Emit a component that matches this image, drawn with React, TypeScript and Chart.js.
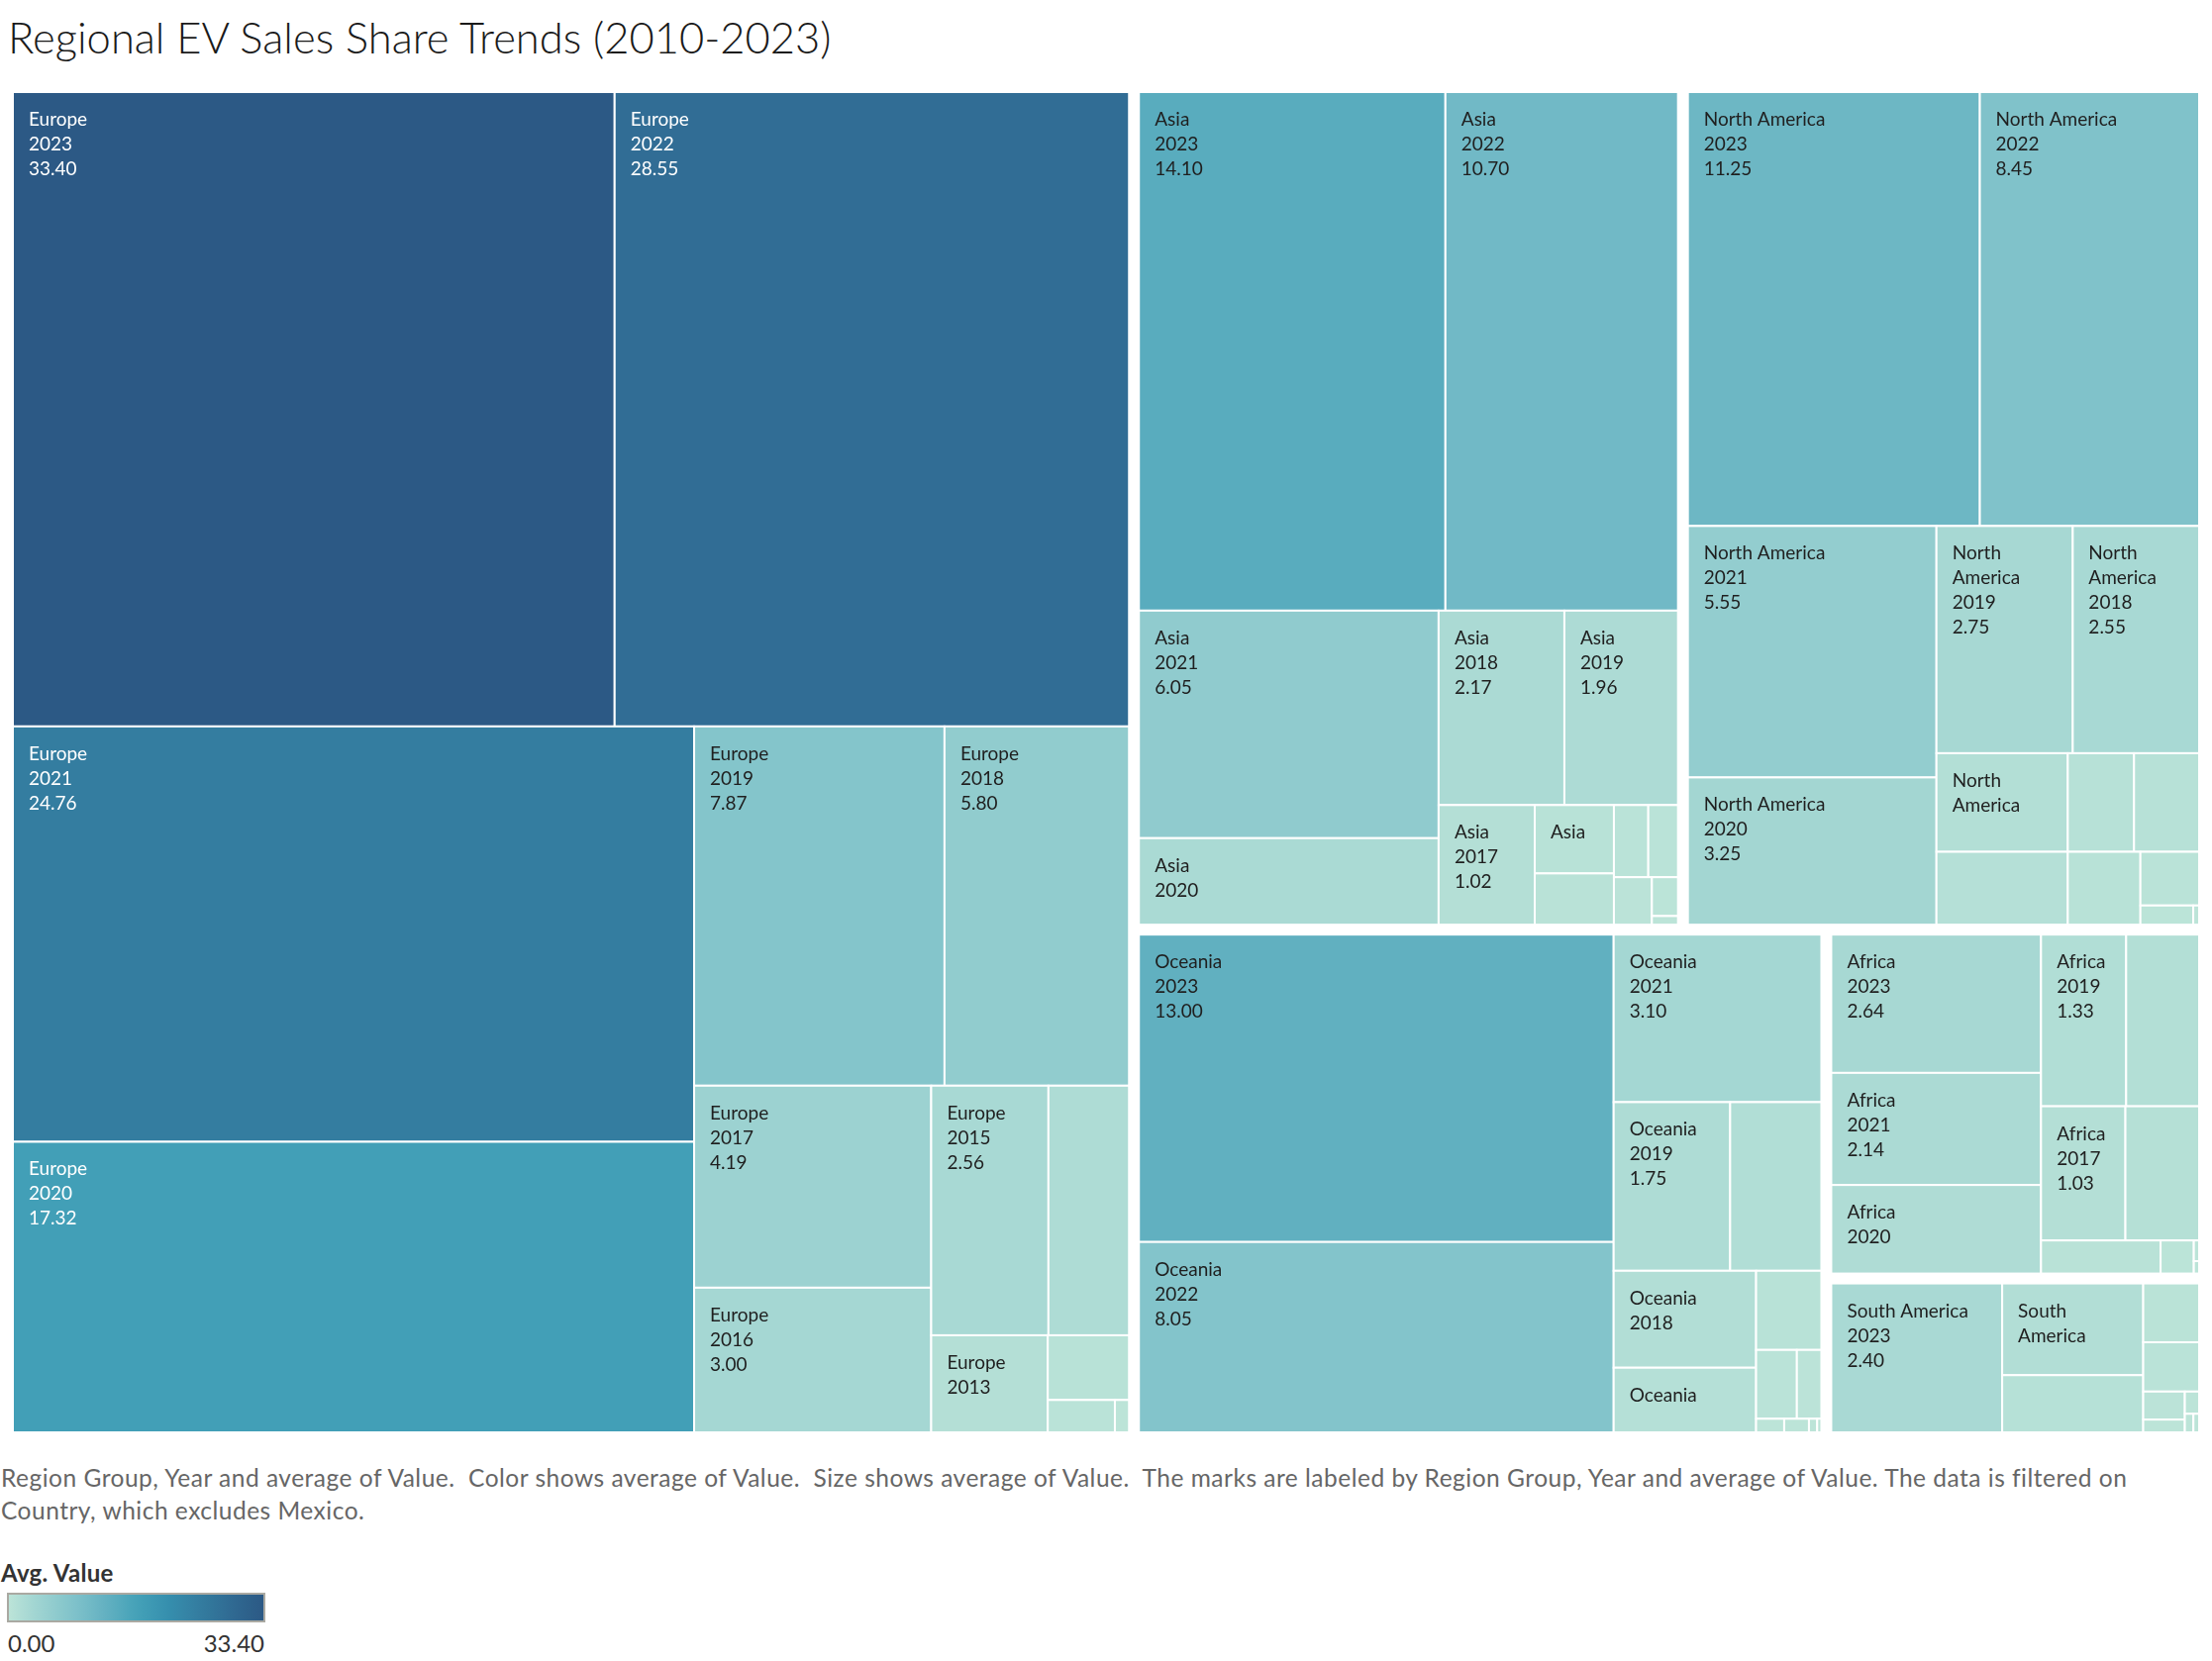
import React, { useEffect, useRef } from "react";
import { Chart, registerables } from "chart.js";

Chart.register(...registerables);

// ---------- data ----------
const regionNames = ["Europe", "Asia", "North America", "Oceania", "Africa", "South America"];

const europeYears = [2023, 2022, 2021, 2020, 2019, 2018, 2017, 2016, 2015, 2014, 2013, 2012, 2011, 2010];
const europeValues = [33.4, 28.55, 24.76, 17.32, 7.87, 5.8, 4.19, 3.0, 2.56, 1.76, 0.99, 0.46, 0.19, 0.04];

const asiaYears = [2023, 2022, 2021, 2020, 2018, 2019, 2017, 2016, 2015, 2014, 2013, 2012, 2011, 2010];
const asiaValues = [14.1, 10.7, 6.05, 2.3, 2.17, 1.96, 1.02, 0.48, 0.36, 0.22, 0.19, 0.16, 0.09, 0.02];

const northAmericaYears = [2023, 2022, 2021, 2020, 2019, 2018, 2017, 2016, 2015, 2014, 2013, 2012, 2011, 2010];
const northAmericaValues = [11.25, 8.45, 5.55, 3.25, 2.75, 2.55, 1.15, 0.85, 0.58, 0.57, 0.47, 0.28, 0.09, 0.01];

const oceaniaYears = [2023, 2022, 2021, 2019, 2020, 2018, 2017, 2016, 2015, 2014, 2013, 2012, 2011, 2010];
const oceaniaValues = [13.0, 8.05, 3.1, 1.75, 1.37, 1.23, 0.82, 0.46, 0.25, 0.15, 0.034, 0.03, 0.01, 0.005];

const africaYears = [2023, 2021, 2020, 2019, 2022, 2017, 2018, 2016, 2015, 2014, 2013];
const africaValues = [2.64, 2.14, 1.69, 1.33, 1.14, 1.03, 0.9, 0.36, 0.1, 0.01, 0.006];

const southAmericaYears = [2023, 2022, 2021, 2020, 2019, 2018, 2017, 2016, 2015, 2014];
const southAmericaValues = [2.4, 1.22, 0.76, 0.31, 0.26, 0.11, 0.05, 0.03, 0.015, 0.01];

const regionYears = [europeYears, asiaYears, northAmericaYears, oceaniaYears, africaYears, southAmericaYears];
const regionValues = [europeValues, asiaValues, northAmericaValues, oceaniaValues, africaValues, southAmericaValues];

const legendTitle = "Avg. Value";
const legendMin = 0;
const legendMax = 33.4;

const titleText = "Regional EV Sales Share Trends (2010-2023)";
const footerLine1 =
  "Region Group, Year and average of Value.  Color shows average of Value.  Size shows average of Value.  The marks are labeled by Region Group, Year and average of Value. The data is filtered on";
const footerLine2 = "Country, which excludes Mexico.";

// Tableau Blue-Teal sequential ramp
const rampColors = [
  "#bce4d8", "#aedcd5", "#a1d5d2", "#95cecf", "#89c8cc", "#7ec1ca", "#72bac6", "#66b2c2", "#59acbe", "#4ba5ba",
  "#419eb6", "#3b96b2", "#358ead", "#3586a7", "#347ea1", "#32779b", "#316f96", "#2f6790", "#2d608a", "#2c5985",
];

// ---------- helpers ----------
const W = 2208;
const H = 1354;
const GAP = 10;

type Rect = { x0: number; y0: number; x1: number; y1: number };

function hexToRgb(h: string) {
  const n = parseInt(h.slice(1), 16);
  return [(n >> 16) & 255, (n >> 8) & 255, n & 255];
}

function rampRgb(v: number) {
  const t = Math.max(0, Math.min(1, (v - legendMin) / (legendMax - legendMin)));
  const p = t * (rampColors.length - 1);
  const i = Math.min(rampColors.length - 2, Math.floor(p));
  const f = p - i;
  const a = hexToRgb(rampColors[i]);
  const b = hexToRgb(rampColors[i + 1]);
  return [0, 1, 2].map((k) => Math.round(a[k] + (b[k] - a[k]) * f));
}

function luminance(rgb: number[]) {
  const c = rgb.map((x) => {
    const s = x / 255;
    return s <= 0.03928 ? s / 12.92 : Math.pow((s + 0.055) / 1.055, 2.4);
  });
  return 0.2126 * c[0] + 0.7152 * c[1] + 0.0722 * c[2];
}

// squarified layout (golden-ratio variant)
function squarify(values: number[], rect: Rect): Rect[] {
  const ratio = (1 + Math.sqrt(5)) / 2;
  const out: Rect[] = new Array(values.length);
  let { x0, y0, x1, y1 } = rect;
  let value = values.reduce((a, b) => a + b, 0);
  const n = values.length;
  let i0 = 0;
  let i1 = 0;
  while (i0 < n) {
    const dx = x1 - x0;
    const dy = y1 - y0;
    let sumValue = values[i1++];
    let minValue = sumValue;
    let maxValue = sumValue;
    const alpha = Math.max(dy / dx, dx / dy) / (value * ratio);
    let beta = sumValue * sumValue * alpha;
    let minRatio = Math.max(maxValue / beta, beta / minValue);
    for (; i1 < n; ++i1) {
      const nv = values[i1];
      sumValue += nv;
      if (nv < minValue) minValue = nv;
      if (nv > maxValue) maxValue = nv;
      beta = sumValue * sumValue * alpha;
      const newRatio = Math.max(maxValue / beta, beta / minValue);
      if (newRatio > minRatio) {
        sumValue -= nv;
        break;
      }
      minRatio = newRatio;
    }
    if (dx < dy) {
      const h = value ? (dy * sumValue) / value : dy;
      let x = x0;
      for (let i = i0; i < i1; i++) {
        const w = (dx * values[i]) / sumValue;
        out[i] = { x0: x, y0, x1: x + w, y1: y0 + h };
        x += w;
      }
      y0 += h;
    } else {
      const w = value ? (dx * sumValue) / value : dx;
      let y = y0;
      for (let i = i0; i < i1; i++) {
        const h = (dy * values[i]) / sumValue;
        out[i] = { x0, y0: y, x1: x0 + w, y1: y + h };
        y += h;
      }
      x0 += w;
    }
    value -= sumValue;
    i0 = i1;
  }
  return out;
}

type Cell = Rect & { region: string; year: number; value: number };

function buildCells(): Cell[] {
  const groups = regionNames.map((name, gi) => {
    const items = regionValues[gi].map((v, k) => ({ v, year: regionYears[gi][k] }));
    items.sort((a, b) => b.v - a.v);
    return { name, items, sum: items.reduce((s, it) => s + it.v, 0) };
  });
  groups.sort((a, b) => b.sum - a.sum);
  const outer = squarify(
    groups.map((g) => g.sum),
    { x0: -GAP / 2, y0: -GAP / 2, x1: W + GAP / 2, y1: H + GAP / 2 }
  );
  const cells: Cell[] = [];
  groups.forEach((g, gi) => {
    const r = outer[gi];
    const inner = { x0: r.x0 + GAP / 2, y0: r.y0 + GAP / 2, x1: r.x1 - GAP / 2, y1: r.y1 - GAP / 2 };
    const rects = squarify(
      g.items.map((it) => it.v),
      inner
    );
    rects.forEach((rc, k) => cells.push({ ...rc, region: g.name, year: g.items[k].year, value: g.items[k].v }));
  });
  return cells;
}

const LINE_H = 25;
const FIRST_BASE = 34;
const BOTTOM_NEED = 52;

const treemapPlugin = {
  id: "treemapCells",
  beforeDatasetsDraw(chart: any) {
    const cells: Cell[] = chart.config.options.plugins.treemapCells.cells;
    const xs = chart.scales.x;
    const ys = chart.scales.y;
    const ctx: CanvasRenderingContext2D = chart.ctx;
    ctx.save();
    for (const c of cells) {
      const X0 = xs.getPixelForValue(c.x0);
      const X1 = xs.getPixelForValue(c.x1);
      const Y0 = ys.getPixelForValue(c.y0);
      const Y1 = ys.getPixelForValue(c.y1);
      const rgb = rampRgb(c.value);
      ctx.fillStyle = `rgb(${rgb[0]},${rgb[1]},${rgb[2]})`;
      ctx.fillRect(X0, Y0, X1 - X0, Y1 - Y0);
      ctx.strokeStyle = "#ffffff";
      ctx.lineWidth = 2;
      ctx.strokeRect(X0, Y0, X1 - X0, Y1 - Y0);
    }
    ctx.font = "19px Lato";
    ctx.textBaseline = "alphabetic";
    ctx.textAlign = "left";
    const padL = 16;
    const padR = 10;
    for (const c of cells) {
      const X0 = xs.getPixelForValue(c.x0);
      const X1 = xs.getPixelForValue(c.x1);
      const Y0 = ys.getPixelForValue(c.y0);
      const Y1 = ys.getPixelForValue(c.y1);
      const w = X1 - X0;
      const h = Y1 - Y0;
      const fits = (s: string) => padL + ctx.measureText(s).width + padR <= w;
      let nameLines: string[] = [];
      if (fits(c.region)) nameLines = [c.region];
      else {
        const words = c.region.split(" ");
        if (words.length > 1 && words.every(fits)) nameLines = words;
      }
      if (!nameLines.length) continue;
      // the whole region name must fit vertically
      if (BOTTOM_NEED + LINE_H * (nameLines.length - 1) > h) continue;
      const lines = [...nameLines, String(c.year), c.value.toFixed(2)];
      const rgb = rampRgb(c.value);
      ctx.fillStyle = luminance(rgb) < 0.32 ? "#ffffff" : "#1f1f1f";
      for (let i = 0; i < lines.length; i++) {
        if (BOTTOM_NEED + LINE_H * i > h) break;
        ctx.fillText(lines[i], X0 + padL, Y0 + FIRST_BASE + LINE_H * i);
      }
    }
    ctx.restore();
  },
};

export default function App() {
  const ref = useRef<HTMLCanvasElement | null>(null);
  useEffect(() => {
    if (!ref.current) return;
    const cells = buildCells();
    const chart = new Chart(ref.current, {
      type: "scatter",
      data: {
        datasets: [
          {
            data: cells.map((c) => ({ x: (c.x0 + c.x1) / 2, y: (c.y0 + c.y1) / 2 })),
            pointRadius: 0,
            pointHoverRadius: 0,
          },
        ],
      },
      options: {
        animation: false,
        responsive: false,
        devicePixelRatio: 1,
        events: [],
        layout: { padding: 0 },
        plugins: {
          legend: { display: false },
          tooltip: { enabled: false },
          title: { display: false },
          treemapCells: { cells },
        } as any,
        scales: {
          x: { type: "linear", min: 0, max: W, display: false },
          y: { type: "linear", min: 0, max: H, reverse: true, display: false },
        },
      },
      plugins: [treemapPlugin],
    });
    return () => chart.destroy();
  }, []);

  const gradient = `linear-gradient(to right, ${rampColors.join(", ")})`;

  return (
    <div
      style={{
        position: "absolute",
        left: 0,
        top: 0,
        width: 2234,
        height: 1678,
        background: "#ffffff",
        fontFamily: "Lato, sans-serif",
        overflow: "hidden",
      }}
    >
      <div
        style={{
          position: "absolute",
          left: 8,
          top: 12,
          fontSize: 43.5,
          fontWeight: 300,
          lineHeight: "50px",
          color: "#1a1a1a",
          whiteSpace: "nowrap",
        }}
      >
        {titleText}
      </div>
      <canvas ref={ref} width={W} height={H} style={{ position: "absolute", left: 13, top: 93, width: W, height: H }} />
      <div
        style={{
          position: "absolute",
          left: 1,
          top: 1476,
          fontSize: 24.5,
          letterSpacing: 0.5,
          lineHeight: "33px",
          color: "#666",
          whiteSpace: "pre",
        }}
      >
        {footerLine1}
        <br />
        {footerLine2}
      </div>
      <div
        style={{
          position: "absolute",
          left: 1,
          top: 1575,
          fontSize: 24,
          fontWeight: 700,
          letterSpacing: 0.3,
          color: "#333",
          lineHeight: "28px",
        }}
      >
        {legendTitle}
      </div>
      <div
        style={{
          position: "absolute",
          left: 7,
          top: 1609,
          width: 261,
          height: 30,
          boxSizing: "border-box",
          border: "2px solid #aaa9a2",
          background: gradient,
        }}
      />
      <div style={{ position: "absolute", left: 8, top: 1646, fontSize: 24, color: "#333", lineHeight: "28px" }}>
        {legendMin.toFixed(2)}
      </div>
      <div
        style={{
          position: "absolute",
          left: 167,
          width: 100,
          textAlign: "right",
          top: 1646,
          fontSize: 24,
          color: "#333",
          lineHeight: "28px",
        }}
      >
        {legendMax.toFixed(2)}
      </div>
    </div>
  );
}
